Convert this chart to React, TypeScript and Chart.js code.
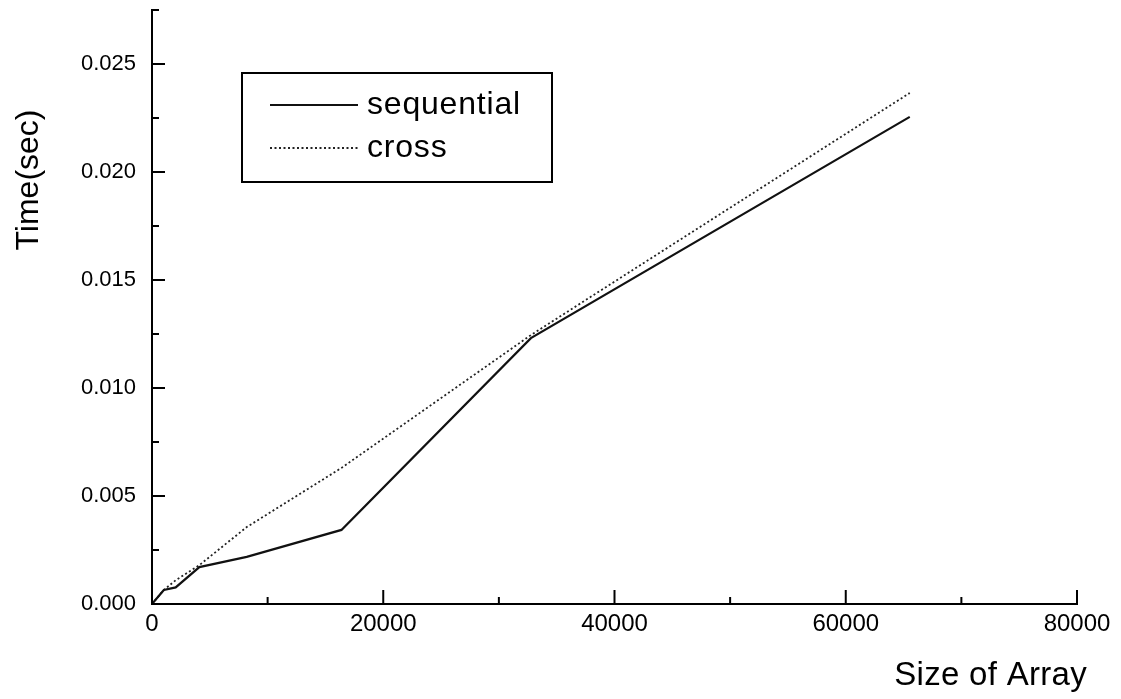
import React, { useEffect, useRef } from "react";
import { Chart, registerables } from "chart.js";

Chart.register(...registerables);

// ---- data ----
const arraySizes = [0, 1024, 2048, 4096, 8192, 16384, 32768, 65536];
const sequentialTimes = [0, 0.00065, 0.00077, 0.00171, 0.00218, 0.00343, 0.01231, 0.02255];
const crossTimes = [0, 0.00065, 0.0011, 0.0018, 0.00356, 0.0063, 0.01245, 0.02366];
const seriesLabels = ["sequential", "cross"];
const xTitle = "Size of Array";
const yTitle = "Time(sec)";
const xRange = [0, 80000];
const yRange = [0, 0.0275];
const xTickStep = 10000;
const xLabelStep = 20000;
const yTickStep = 0.0025;
const yLabelStep = 0.005;

const FONT = "'Liberation Sans', Arial, Helvetica, sans-serif";

const isMultiple = (v: number, step: number) => {
  const r = v / step;
  return Math.abs(r - Math.round(r)) < 1e-6;
};

const setSpacing = (ctx: any, s: string) => {
  try {
    ctx.letterSpacing = s;
  } catch (e) {}
};

const decorPlugin = {
  id: "decor",
  afterDraw(chart: any) {
    const { ctx, chartArea, scales } = chart;
    const xs = scales.x;
    const ys = scales.y;
    ctx.save();
    ctx.strokeStyle = "#000";
    ctx.lineWidth = 2;
    // inward tick marks
    xs.ticks.forEach((t: any) => {
      const px = xs.getPixelForValue(t.value);
      const len = isMultiple(t.value, xLabelStep) ? 14 : 7;
      ctx.beginPath();
      ctx.moveTo(px, chartArea.bottom);
      ctx.lineTo(px, chartArea.bottom - len);
      ctx.stroke();
    });
    ys.ticks.forEach((t: any) => {
      const py = ys.getPixelForValue(t.value);
      const len = isMultiple(t.value, yLabelStep) ? 13 : 7;
      ctx.beginPath();
      ctx.moveTo(chartArea.left, py);
      ctx.lineTo(chartArea.left + len, py);
      ctx.stroke();
    });

    ctx.fillStyle = "#000";
    // x-axis title (right aligned under the axis end)
    ctx.font = `33px ${FONT}`;
    setSpacing(ctx, "0.3px");
    ctx.textAlign = "right";
    ctx.textBaseline = "middle";
    ctx.fillText(xTitle, chartArea.right + 10, 676);
    setSpacing(ctx, "0px");

    // y-axis title
    ctx.font = `32px ${FONT}`;
    ctx.textAlign = "center";
    ctx.translate(29, 180);
    ctx.rotate(-Math.PI / 2);
    ctx.fillText(yTitle, 0, 0);
    ctx.restore();

    // legend box
    ctx.save();
    const bx = chartArea.left + 90;
    const by = chartArea.top + 63;
    const bw = 310;
    const bh = 109;
    ctx.fillStyle = "#fff";
    ctx.fillRect(bx, by, bw, bh);
    ctx.strokeStyle = "#000";
    ctx.lineWidth = 2;
    ctx.strokeRect(bx, by, bw, bh);
    chart.data.datasets.forEach((ds: any, i: number) => {
      const ly = by + 32 + i * 43;
      ctx.beginPath();
      ctx.strokeStyle = ds.borderColor;
      ctx.lineWidth = ds.borderWidth;
      ctx.setLineDash(ds.borderDash || []);
      ctx.moveTo(bx + 28, ly);
      ctx.lineTo(bx + 116, ly);
      ctx.stroke();
      ctx.setLineDash([]);
      ctx.fillStyle = "#000";
      ctx.font = `32px ${FONT}`;
      setSpacing(ctx, "0.8px");
      ctx.textAlign = "left";
      ctx.textBaseline = "alphabetic";
      ctx.fillText(ds.label, bx + 125, ly + 9);
      setSpacing(ctx, "0px");
    });
    ctx.restore();
  },
};

export default function App() {
  const canvasRef = useRef<HTMLCanvasElement | null>(null);

  useEffect(() => {
    if (!canvasRef.current) return;
    const chart = new Chart(canvasRef.current, {
      type: "line",
      data: {
        datasets: [
          {
            label: seriesLabels[0],
            data: arraySizes.map((x, i) => ({ x, y: sequentialTimes[i] })),
            borderColor: "#111",
            borderWidth: 2.2,
            pointRadius: 0,
            tension: 0,
            fill: false,
          },
          {
            label: seriesLabels[1],
            data: arraySizes.map((x, i) => ({ x, y: crossTimes[i] })),
            borderColor: "#222",
            borderWidth: 1.8,
            borderDash: [2, 2.5],
            pointRadius: 0,
            tension: 0,
            fill: false,
          },
        ],
      },
      options: {
        animation: false,
        responsive: false,
        layout: { padding: { top: 10, right: 44, bottom: 0, left: 0 } },
        plugins: { legend: { display: false }, tooltip: { enabled: false } },
        scales: {
          x: {
            type: "linear",
            min: xRange[0],
            max: xRange[1],
            afterFit: (s: any) => {
              s.height = 95;
              s.paddingLeft = 0;
              s.paddingRight = 0;
            },
            grid: { display: false, drawTicks: false },
            border: { display: true, color: "#000", width: 2 },
            ticks: {
              stepSize: xTickStep,
              autoSkip: false,
              maxRotation: 0,
              padding: 6,
              color: "#000",
              font: { size: 24, family: FONT },
              callback: (v: any) => (isMultiple(Number(v), xLabelStep) ? String(v) : ""),
            },
          },
          y: {
            type: "linear",
            min: yRange[0],
            max: yRange[1],
            afterFit: (s: any) => {
              s.width = 152;
              s.paddingTop = 0;
              s.paddingBottom = 0;
            },
            grid: { display: false, drawTicks: false },
            border: { display: true, color: "#000", width: 2 },
            ticks: {
              stepSize: yTickStep,
              autoSkip: false,
              includeBounds: false,
              padding: 16,
              color: "#000",
              font: { size: 22, family: FONT },
              callback: (v: any) => (isMultiple(Number(v), yLabelStep) ? Number(v).toFixed(3) : ""),
            },
          },
        },
      },
      plugins: [decorPlugin],
    });
    return () => chart.destroy();
  }, []);

  return (
    <div style={{ position: "fixed", left: 0, top: 0, width: 1121, height: 699, background: "#fff" }}>
      <canvas ref={canvasRef} width={1121} height={699} style={{ display: "block" }} />
    </div>
  );
}
